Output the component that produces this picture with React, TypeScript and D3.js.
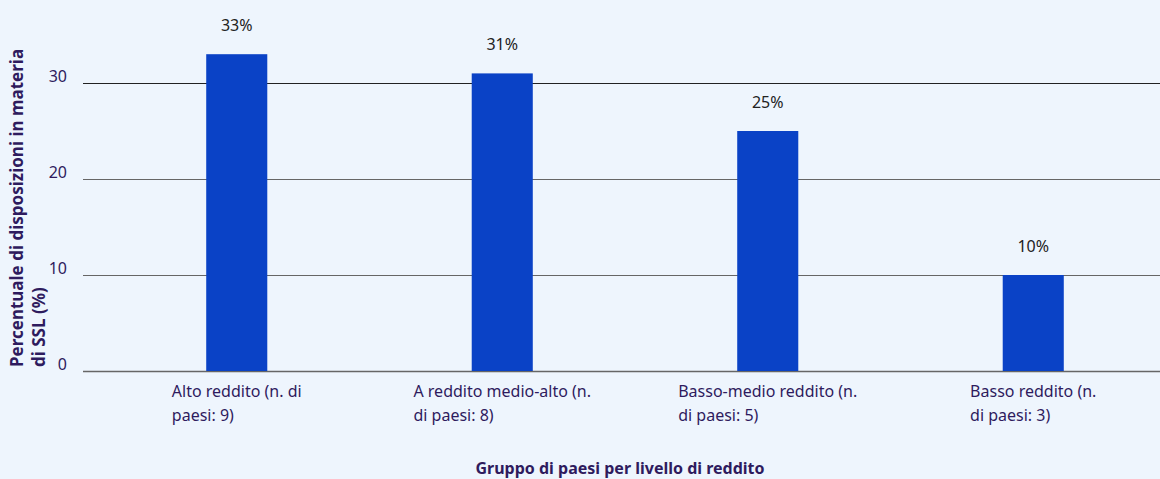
import React, { useEffect, useRef } from "react";
import * as d3 from "d3";

const categoryLine1 = ["Alto reddito (n. di", "A reddito medio-alto (n.", "Basso-medio reddito (n.", "Basso reddito (n."];
const categoryLine2 = ["paesi: 9)", "di paesi: 8)", "di paesi: 5)", "di paesi: 3)"];
const values = [33, 31, 25, 10];
const valueLabels = ["33%", "31%", "25%", "10%"];
const yTicks = [0, 10, 20, 30];
const yTitle = ["Percentuale di disposizioni in materia", "di SSL (%)"];
const xTitle = "Gruppo di paesi per livello di reddito";

const W = 1160;
const H = 479;
const BG = "#eef5fd";
const BAR = "#0a42c6";
const TXT = "#2e1b5e";
const FONT = "'Noto Sans', 'Open Sans', sans-serif";

export default function App() {
  const ref = useRef<SVGSVGElement | null>(null);

  useEffect(() => {
    document.body.style.margin = "0";
    document.body.style.background = BG;
    const svg = d3.select(ref.current);
    svg.selectAll("*").remove();

    const x = d3
      .scaleBand<number>()
      .domain(d3.range(values.length))
      .range([104, 1166])
      .paddingInner(0.77)
      .paddingOuter(0.385);
    const y = d3.scaleLinear().domain([0, 30]).range([371, 83]);

    svg.append("rect").attr("width", W).attr("height", H).attr("fill", BG);

    // grid
    svg
      .append("g")
      .selectAll("line")
      .data(yTicks)
      .join("line")
      .attr("x1", 83)
      .attr("x2", W)
      .attr("y1", (d) => Math.round(y(d)) + 0.5)
      .attr("y2", (d) => Math.round(y(d)) + 0.5)
      .attr("stroke", (d) => (d === 30 ? "#222" : "#666"))
      .attr("stroke-width", (d) => (d === 0 ? 1.5 : 1));

    // y tick labels
    svg
      .append("g")
      .selectAll("text")
      .data(yTicks)
      .join("text")
      .attr("x", 67)
      .attr("y", (d) => y(d) - 1)
      .attr("text-anchor", "end")
      .attr("font-family", FONT)
      .attr("font-size", 16)
      .attr("fill", TXT)
      .text((d) => String(d));

    // bars
    svg
      .append("g")
      .selectAll("rect")
      .data(values)
      .join("rect")
      .attr("x", (_, i) => x(i)!)
      .attr("width", x.bandwidth())
      .attr("y", (d) => y(d))
      .attr("height", (d) => y(0) - y(d))
      .attr("fill", BAR);

    // value labels
    svg
      .append("g")
      .selectAll("text")
      .data(values)
      .join("text")
      .attr("x", (_, i) => x(i)! + x.bandwidth() / 2)
      .attr("y", (d) => y(d) - 23)
      .attr("text-anchor", "middle")
      .attr("font-family", FONT)
      .attr("font-size", 16)
      .attr("fill", "#222")
      .text((_, i) => valueLabels[i]);

    // x tick labels (two lines, left aligned, first line centred on the bar)
    const xl = svg.append("g");
    categoryLine1.forEach((l1, i) => {
      const cx = x(i)! + x.bandwidth() / 2;
      const t = xl
        .append("text")
        .attr("font-family", FONT)
        .attr("font-size", 16)
        .attr("fill", TXT);
      const a = t.append("tspan").attr("y", 397).text(l1);
      const b = t.append("tspan").attr("y", 421).text(categoryLine2[i]);
      const w1 = (a.node() as SVGTSpanElement).getComputedTextLength();
      const sx = cx - w1 / 2;
      a.attr("x", sx);
      b.attr("x", sx);
    });

    // x title
    svg
      .append("text")
      .attr("x", 620)
      .attr("y", 474)
      .attr("text-anchor", "middle")
      .attr("font-family", FONT)
      .attr("font-size", 16)
      .attr("font-weight", "bold")
      .attr("fill", TXT)
      .text(xTitle);

    // y title
    const yt = svg
      .append("text")
      .attr("transform", "translate(23,367) rotate(-90)")
      .attr("font-family", FONT)
      .attr("font-size", 17)
      .attr("font-weight", "bold")
      .attr("fill", TXT);
    yTitle.forEach((l, i) => {
      yt.append("tspan").attr("x", 0).attr("y", i * 22).text(l);
    });
  }, []);

  return <svg ref={ref} width={W} height={H} style={{ display: "block" }} />;
}
